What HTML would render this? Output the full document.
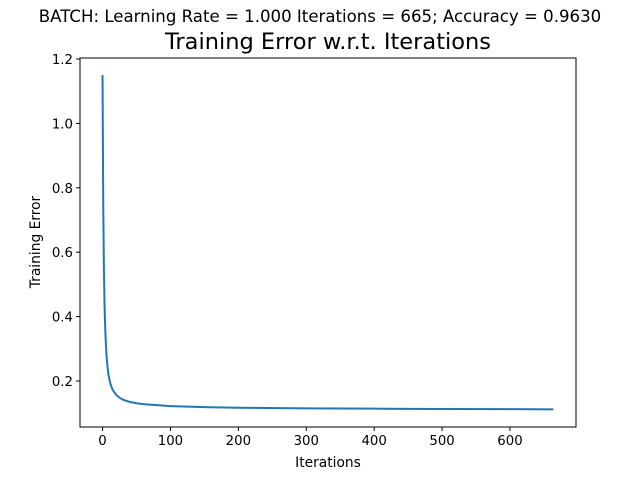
<!DOCTYPE html>
<html><head><meta charset="utf-8"><style>
body{margin:0;background:#fff}
svg{display:block;font-family:"DejaVu Sans","Liberation Sans",sans-serif}
</style></head><body>
<svg id="chart" width="640" height="480">
<text x="320" y="22" text-anchor="middle" font-size="16.6">BATCH: Learning Rate = 1.000 Iterations = 665; Accuracy = 0.9630</text>
<text x="328" y="49" text-anchor="middle" font-size="22.5">Training Error w.r.t. Iterations</text>
<rect x="80" y="58" width="496" height="369" fill="none" stroke="#000" stroke-width="1"/>
<g id="xt"></g>
<g id="yt"></g>
<text x="328" y="467" text-anchor="middle" font-size="13.8">Iterations</text>
<text transform="translate(40,242) rotate(-90)" text-anchor="middle" font-size="13.8">Training Error</text>
<polyline id="line" fill="none" stroke="#1f77b4" stroke-width="2"/>
</svg>
<script>
const iterations=[0,1,2,3,4,5,6,8,10,12,15,20,25,30,40,50,60,80,100,150,200,300,400,500,600,664];
const errors=[1.15,0.75,0.55,0.43,0.36,0.31,0.275,0.23,0.205,0.188,0.172,0.157,0.148,0.142,0.135,0.131,0.128,0.125,0.122,0.119,0.117,0.115,0.114,0.113,0.1125,0.112];
const xTicks=[0,100,200,300,400,500,600];
const yTicks=[0.2,0.4,0.6,0.8,1.0,1.2];
const X0=80,X1=576,Y0=58,Y1=427;
const xmin=-33.2,xmax=697.2,ymin=0.0571,ymax=1.2031;
const sx=v=>X0+(v-xmin)/(xmax-xmin)*(X1-X0);
const sy=v=>Y1-(v-ymin)/(ymax-ymin)*(Y1-Y0);
const NS="http://www.w3.org/2000/svg";
const xt=document.getElementById('xt'),yt=document.getElementById('yt');
xTicks.forEach(t=>{
 const l=document.createElementNS(NS,'line');
 l.setAttribute('x1',sx(t));l.setAttribute('x2',sx(t));l.setAttribute('y1',Y1);l.setAttribute('y2',Y1+4);l.setAttribute('stroke','#000');
 
 
 xt.appendChild(l);
 const s=document.createElementNS(NS,'text');
 s.setAttribute('x',sx(t));s.setAttribute('y',Y1+18);s.setAttribute('text-anchor','middle');s.setAttribute('font-size','13.3');s.textContent=t;
 
 
 xt.appendChild(s);
});
yTicks.forEach(t=>{
 const l=document.createElementNS(NS,'line');
 l.setAttribute('x1',X0-4);l.setAttribute('x2',X0);l.setAttribute('y1',sy(t));l.setAttribute('y2',sy(t));l.setAttribute('stroke','#000');
 
 
 yt.appendChild(l);
 const s=document.createElementNS(NS,'text');
 s.setAttribute('x',X0-7);s.setAttribute('y',sy(t)+5);s.setAttribute('text-anchor','end');s.setAttribute('font-size','13.3');s.textContent=t.toFixed(1);
 
 
 yt.appendChild(s);
});
document.getElementById('line').setAttribute('points',iterations.map((v,i)=>sx(v)+','+sy(errors[i])).join(' '));
</script>
</body></html>
